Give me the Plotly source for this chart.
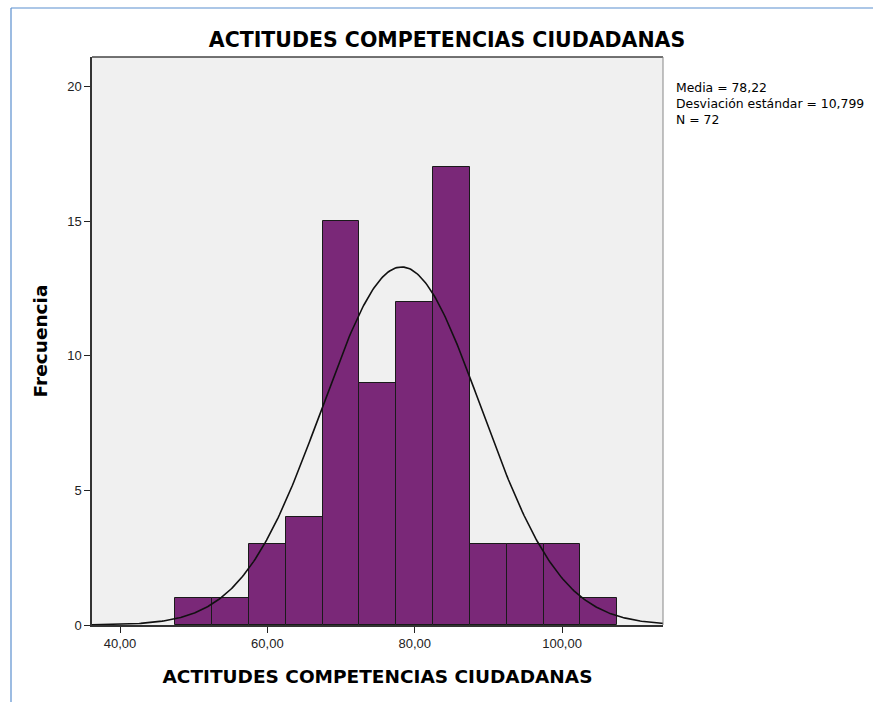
import numpy as np
import plotly.graph_objects as go

# Data
bin_left = [47.5, 52.5, 57.5, 62.5, 67.5, 72.5, 77.5, 82.5, 87.5, 92.5, 97.5, 102.5]
bin_width = 5.0
counts = [1, 1, 3, 4, 15, 9, 12, 17, 3, 3, 3, 1]
mean = 78.22
sd = 10.799
n = 72
x_ticks = [40, 60, 80, 100]
x_tick_labels = ["40,00", "60,00", "80,00", "100,00"]
y_ticks = [0, 5, 10, 15, 20]
stats_lines = ["Media = 78,22", "Desviación estándar = 10,799", "N = 72"]

centers = [b + bin_width / 2 for b in bin_left]

fig = go.Figure()
fig.add_trace(go.Bar(
    x=centers, y=counts, width=[bin_width] * len(counts),
    marker=dict(color="#7a2878", line=dict(color="#1a1a1a", width=1)),
    hoverinfo="x+y", showlegend=False,
))

xs = np.linspace(36.2, 113.7, 400)
ys = n * bin_width * np.exp(-0.5 * ((xs - mean) / sd) ** 2) / (sd * np.sqrt(2 * np.pi))
fig.add_trace(go.Scatter(x=xs, y=ys, mode="lines",
                         line=dict(color="#111111", width=1.6), showlegend=False,
                         hoverinfo="skip"))

L, R, T, B = 92, 210, 57, 77
W, H = 873, 702
pw, ph = W - L - R, H - T - B
TITLE_FONT = "DejaVu Sans, Arial, sans-serif"

fig.update_layout(
    width=W, height=H,
    margin=dict(l=L, r=R, t=T, b=B, pad=0),
    paper_bgcolor="white", plot_bgcolor="#f0f0f0",
    bargap=0,
    font=dict(family="Liberation Sans, Arial, sans-serif", color="#222"),
    title=dict(text="<b>ACTITUDES COMPETENCIAS CIUDADANAS</b>",
               x=447 / W, xanchor="center", y=1 - 40 / H, yanchor="middle",
               font=dict(size=20.5, color="black", family=TITLE_FONT)),
    xaxis=dict(range=[36.2, 113.7], tickvals=x_ticks, ticktext=x_tick_labels,
               ticks="outside", ticklen=6, tickcolor="#222", tickwidth=1,
               showgrid=False, zeroline=False, showline=True, linecolor="#333",
               linewidth=1.5, mirror=False,
               tickfont=dict(size=13, color="#222"),
               title=dict(text="<b>ACTITUDES COMPETENCIAS CIUDADANAS</b>",
                          font=dict(size=18.5, color="black", family=TITLE_FONT),
                          standoff=20)),
    yaxis=dict(range=[0, 21.1], tickvals=y_ticks,
               ticks="outside", ticklen=6, tickcolor="#222", tickwidth=1,
               showgrid=False, zeroline=False, showline=True, linecolor="#333",
               linewidth=1.5,
               tickfont=dict(size=13, color="#222"),
               title=dict(text="<b>Frecuencia</b>",
                          font=dict(size=18.5, color="black", family=TITLE_FONT),
                          standoff=15)),
)

# plot frame (top and right)
fig.add_shape(type="line", xref="paper", yref="paper", x0=0, x1=1, y0=1, y1=1,
              line=dict(color="#444", width=1.5))
fig.add_shape(type="line", xref="paper", yref="paper", x0=1, x1=1, y0=0, y1=1,
              line=dict(color="#888", width=1))

# blue outer border
def px_x(px):
    return (px - L) / pw

def px_y(py):
    return (H - B - py) / ph

fig.add_shape(type="line", xref="paper", yref="paper",
              x0=px_x(11), x1=px_x(873), y0=px_y(8), y1=px_y(8),
              line=dict(color="#5b8fcf", width=1.2))
fig.add_shape(type="line", xref="paper", yref="paper",
              x0=px_x(11), x1=px_x(11), y0=px_y(8), y1=px_y(702),
              line=dict(color="#5b8fcf", width=1.2))

fig.add_annotation(xref="paper", yref="paper", x=px_x(675), y=px_y(103),
                   xanchor="left", yanchor="middle", align="left", showarrow=False,
                   borderpad=0, text="<br>".join(stats_lines),
                   font=dict(size=12.4, color="black", family=TITLE_FONT))

fig.write_html("out.html", config={"displayModeBar": False},
               post_script="document.body.style.margin='0px';")
